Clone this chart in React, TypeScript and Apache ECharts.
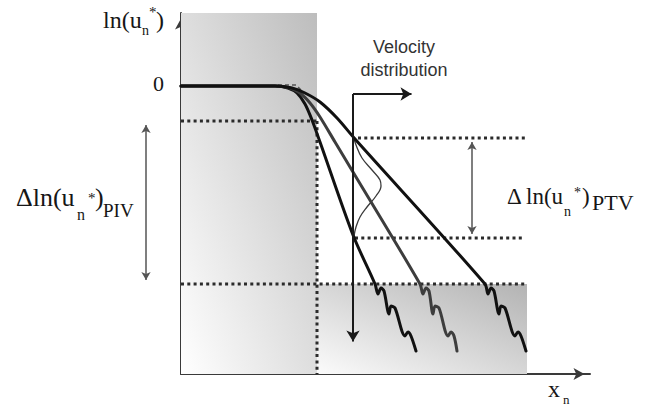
import React, { useEffect, useRef } from 'react';
import * as echarts from 'echarts';

// Diagram units: x = distance along x_n, y = ln(u_n*) relative to the plateau (0)
const X_MAX = 409;
const Y_MIN = -288;
const Y_MAX = 73;

// Three decaying profiles (plateau, bend, linear decay, then noisy tail)
const profileSteep: number[][] = [
  [0, 0], [94, 0], [107, -2], [116, -7], [124, -18], [131, -34], [139, -56], [172, -149], [194, -198],
  [197, -208], [200, -202], [203, -205], [208, -228], [210, -220], [214, -222], [224, -250], [227, -246], [230, -250], [235, -265],
];
const profileMiddle: number[][] = [
  [0, 0], [94, 0], [109, -2], [119, -7], [129, -17], [139, -31], [154, -56], [172, -86], [239, -198],
  [242, -208], [245, -202], [248, -205], [252, -228], [254, -220], [258, -222], [267, -250], [270, -246], [273, -250], [276, -265],
];
const profileShallow: number[][] = [
  [0, 0], [94, 0], [111, -2], [124, -7], [139, -16], [156, -32], [174, -53], [304, -198],
  [307, -208], [310, -202], [313, -205], [318, -228], [320, -220], [324, -222], [334, -250], [337, -246], [340, -250], [345, -265],
];
const referenceProfile: number[][] = [[97, 1], [115, 1], [122, -6]];

// Velocity distribution (bump beside the vertical velocity axis)
const velocityDistribution: number[][] = [
  [172, -49], [175, -59], [181, -72], [191, -84], [199, -94], [200, -100], [195, -110], [186, -121], [179, -131], [175, -141], [173, -150],
];
const velocityAxisX = 172;
const velocityTop = -8;
const velocityBottom = -261;
const velocityArrowEnd = 236;

// Limits
const transitionX = 136;
const pivLevels = [-35, -198];
const ptvLevels = [-52, -152];
const pivArrowX = -35;
const ptvArrowX = 291;
const pivLineStart = -63;
const ptvLineStart = [177, 174];
const limitLineEnd = 344;
const farRegionEnd = 346;

const SERIF = '"Liberation Serif", "Times New Roman", serif';
const SANS = '"Liberation Sans", Arial, sans-serif';

function shorten(p1: number[], p2: number[], d1: number, d2: number) {
  const dx = p2[0] - p1[0];
  const dy = p2[1] - p1[1];
  const len = Math.hypot(dx, dy) || 1;
  const ux = dx / len, uy = dy / len;
  return [[p1[0] + ux * d1, p1[1] + uy * d1], [p2[0] - ux * d2, p2[1] - uy * d2]];
}

export default function App() {
  const ref = useRef<HTMLDivElement>(null);
  useEffect(() => {
    if (!ref.current) return;
    const chart = echarts.init(ref.current, null, { renderer: 'svg' });

    const lineBase = {
      type: 'line', showSymbol: false, symbol: 'none', clip: false, silent: true, z: 3,
    };
    const dotted = (data: number[][]) => ({
      ...lineBase,
      data,
      lineStyle: { type: [3, 3.3], width: 3, color: '#2b2b2b', cap: 'butt' },
    });
    const profile = (data: number[][], color: string) => ({
      ...lineBase,
      data,
      smooth: 0.3,
      lineStyle: { width: 3, color, cap: 'round', join: 'round' },
    });

    const smallHead = [7, 8];
    const bigHead = [10, 11];

    const grad = (dark: string, light: string) =>
      new echarts.graphic.LinearGradient(1, 0, 0, 1, [
        { offset: 0, color: dark },
        { offset: 1, color: light },
      ]);

    const textItems: any[] = [];
    const addText = (text: string, x: number, y: number, size: number, family = SERIF, align = 'left', fill = '#161616') => {
      textItems.push({
        type: 'text', x, y, silent: true,
        style: {
          text, font: `normal ${size}px ${family}`, fill,
          textAlign: align, align, textVerticalAlign: 'middle', verticalAlign: 'middle',
        },
      });
    };
    // y-axis title
    addText('ln(u', 103, 20, 24);
    addText('n', 142, 30, 14);
    addText('*', 149, 12, 15);
    addText(')', 156, 20, 24);
    addText('0', 153, 83, 22);
    // PIV range label
    addText('\u0394ln(u', 16, 197, 26);
    addText('n', 77, 214, 16);
    addText('*', 88, 198, 15);
    addText(')', 95, 197, 26);
    addText('PIV', 103, 210, 19);
    // PTV range label
    addText('\u0394', 507, 196, 23);
    addText('ln(u', 526, 196, 23);
    addText('n', 564, 211, 14);
    addText('*', 574, 192, 14);
    addText(')', 582, 196, 23);
    addText('PTV', 592, 202, 22);
    // x-axis title
    addText('x', 548, 389, 24);
    addText('n', 563, 399, 13);
    // velocity distribution caption
    addText('Velocity', 404, 47, 18, SANS, 'center', '#333');
    addText('distribution', 404, 70, 18, SANS, 'center', '#333');

    const option: any = {
      animation: false,
      backgroundColor: '#ffffff',
      grid: { left: 181, top: 13, width: X_MAX, height: Y_MAX - Y_MIN },
      xAxis: {
        type: 'value', min: 0, max: X_MAX,
        axisLine: {
          show: true, onZero: false, symbol: ['none', 'arrow'], symbolSize: [9, 11], symbolOffset: [0, -5.5],
          lineStyle: { color: '#3a3a3a', width: 2 },
        },
        axisTick: { show: false }, axisLabel: { show: false }, splitLine: { show: false },
      },
      yAxis: {
        type: 'value', min: Y_MIN, max: Y_MAX,
        axisLine: {
          show: true, onZero: false, symbol: ['none', 'arrow'], symbolSize: [9, 11], symbolOffset: [0, -5.5],
          lineStyle: { color: '#3a3a3a', width: 2 },
        },
        axisTick: { show: false }, axisLabel: { show: false }, splitLine: { show: false },
      },
      graphic: textItems,
      series: [
        {
          type: 'line', data: [[0, Y_MIN]], showSymbol: false, symbol: 'none', silent: true, z: 1,
          lineStyle: { opacity: 0 },
          markArea: {
            silent: true,
            label: { show: false },
            data: [
              [{ coord: [0, Y_MAX], itemStyle: { color: grad('#bdbdbd', '#ffffff') } }, { coord: [transitionX, Y_MIN] }],
              [{ coord: [transitionX, pivLevels[1]], itemStyle: { color: grad('#b3b3b3', '#fbfbfb') } }, { coord: [farRegionEnd, Y_MIN] }],
            ],
          },
        },
        dotted([[pivLineStart, pivLevels[0]], [transitionX, pivLevels[0]]]),
        dotted([[pivLineStart, pivLevels[1]], [farRegionEnd, pivLevels[1]]]),
        dotted([[transitionX, pivLevels[0]], [transitionX, Y_MIN]]),
        dotted([[ptvLineStart[0], ptvLevels[0]], [limitLineEnd, ptvLevels[0]]]),
        dotted([[ptvLineStart[1], ptvLevels[1]], [limitLineEnd, ptvLevels[1]]]),
        {
          ...lineBase, data: referenceProfile,
          lineStyle: { type: [4, 3], width: 1.5, color: '#555' },
        },
        {
          ...lineBase, data: velocityDistribution, smooth: 0.4,
          lineStyle: { width: 1.3, color: '#3a3a3a' },
        },
        profile(profileSteep, '#111111'),
        profile(profileMiddle, '#3d3d3d'),
        profile(profileShallow, '#111111'),
        {
          type: 'lines', coordinateSystem: 'cartesian2d', clip: false, silent: true, z: 4,
          symbol: ['arrow', 'arrow'], symbolSize: [smallHead, smallHead],
          lineStyle: { color: '#555', width: 1.5, opacity: 1, curveness: 0 },
          data: [
            { coords: shorten([pivArrowX, pivLevels[0]], [pivArrowX, pivLevels[1]], smallHead[1] / 2, smallHead[1] / 2) },
            { coords: shorten([ptvArrowX, ptvLevels[0]], [ptvArrowX, ptvLevels[1]], smallHead[1] / 2, smallHead[1] / 2) },
          ],
        },
        {
          type: 'lines', coordinateSystem: 'cartesian2d', clip: false, silent: true, z: 4,
          symbol: ['none', 'arrow'], symbolSize: [bigHead, bigHead],
          lineStyle: { color: '#1a1a1a', width: 2, opacity: 1, curveness: 0 },
          data: [
            { coords: shorten([velocityAxisX, velocityTop], [velocityAxisX, velocityBottom], 0, bigHead[1] / 2) },
            { coords: shorten([velocityAxisX, velocityTop], [velocityArrowEnd, velocityTop], 0, bigHead[1] / 2) },
          ],
        },
      ],
    };
    chart.setOption(option);
    return () => chart.dispose();
  }, []);

  return (
    <div
      ref={ref}
      style={{ position: 'fixed', left: 0, top: 0, width: 648, height: 408, background: '#fff' }}
    />
  );
}
